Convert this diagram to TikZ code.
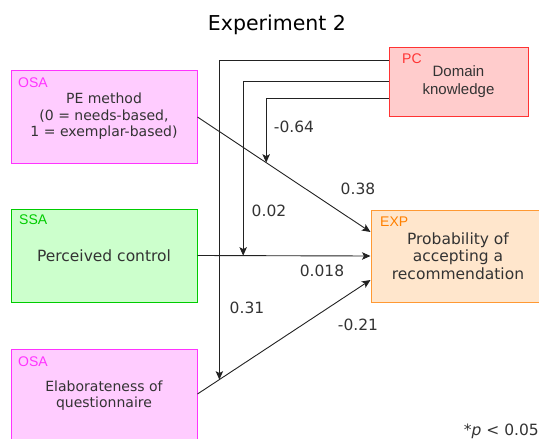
\documentclass[tikz,border=0pt]{standalone}
\usepackage{fontspec}
\setmainfont{DejaVu Sans}
\newfontfamily\arialf{Liberation Sans}
\usetikzlibrary{arrows.meta}
\definecolor{txt}{HTML}{333333}
\definecolor{osafill}{HTML}{FFCCFF}
\definecolor{osadraw}{HTML}{FF33FF}
\definecolor{ssafill}{HTML}{CCFFCC}
\definecolor{ssadraw}{HTML}{00CC00}
\definecolor{pcfill}{HTML}{FFCCCC}
\definecolor{pcdraw}{HTML}{FF3333}
\definecolor{expfill}{HTML}{FFE6CC}
\definecolor{expdraw}{HTML}{FF9933}
\definecolor{exptext}{HTML}{FF8000}
\definecolor{lin}{HTML}{222222}
\tikzset{
  box/.style={rectangle, line width=1pt, align=center, text=txt, inner sep=0pt},
  tag/.style={anchor=north west, inner sep=0pt, font=\arialf\fontsize{14}{14}\selectfont},
  coef/.style={text=txt, inner sep=0pt, font=\fontsize{15.5}{16}\selectfont},
  conn/.style={draw=lin, line width=0.9pt},
  arr/.style={conn, -{Stealth[length=8.5pt,width=7.5pt,inset=2pt]}},
}
\begin{document}
\begin{tikzpicture}[x=1pt,y=-1pt]
\useasboundingbox (0,0) rectangle (539,439);
\clip (0,0) rectangle (539,439);
% title
\node[text=black, inner sep=0pt, font=\fontsize{20.5}{22}\selectfont] (title) at (277,25) {Experiment 2};
% boxes
\node[box, fill=osafill, draw=osadraw, minimum width=186pt, minimum height=93pt,
  font=\fontsize{14}{16.5}\selectfont] (pe) at (104,116.5) {PE method\\(0 = needs-based,\\1 = exemplar-based)};
\node[tag, text=osadraw] (pelab) at (18,78) {OSA};
\node[box, fill=ssafill, draw=ssadraw, minimum width=186pt, minimum height=93pt,
  font=\fontsize{15.5}{18}\selectfont] (pc2) at (104,255.5) {Perceived control};
\node[tag, text=ssadraw] (pclab) at (19,215) {SSA};
\node[box, fill=osafill, draw=osadraw, minimum width=186pt, minimum height=93pt,
  font=\fontsize{14}{16.5}\selectfont] (el) at (104,395.5) {Elaborateness of\\questionnaire};
\node[tag, text=osadraw] (ellab) at (18,357) {OSA};
\node[box, fill=pcfill, draw=pcdraw, minimum width=139pt, minimum height=69pt,
  font=\arialf\fontsize{15}{18}\selectfont] (dk) at (458.5,81.5) {Domain\\knowledge};
\node[tag, text=pcdraw] (dklab) at (402,53.5) {PC};
\node[box, fill=expfill, draw=expdraw, minimum width=174pt, minimum height=92pt,
  font=\fontsize{15.5}{17.5}\selectfont] (exp) at (458,256) {Probability of\\accepting a\\recommendation};
\node[tag, text=exptext] (explab) at (380,217) {EXP};
% main paths
\draw[arr] (pe.east |- 0,117) -- coordinate[pos=0.397] (m1) (exp.west |- 0,232);
\draw[arr] (pc2.east) -- coordinate[pos=0.264] (m2) (exp.west);
\draw[arr] (el.east |- 0,394) -- coordinate[pos=0.1264] (m3) (exp.west |- 0,280);
% moderation paths
\draw[arr] (dk.west |- 0,60) -| (m3);
\draw[arr] (dk.west |- 0,81) -| (m2);
\draw[arr] (dk.west |- 0,98) -| (m1);
% coefficients
\node[coef] (c1) at (294,127) {-0.64};
\node[coef] (c2) at (358,189) {0.38};
\node[coef] (c3) at (269,211) {0.02};
\node[coef] (c4) at (322,271) {0.018};
\node[coef] (c5) at (247,308) {0.31};
\node[coef] (c6) at (358,325) {-0.21};
\node[coef, anchor=east] (sig) at (539,431) {*\textit{p} < 0.05};
\end{tikzpicture}
\end{document}
